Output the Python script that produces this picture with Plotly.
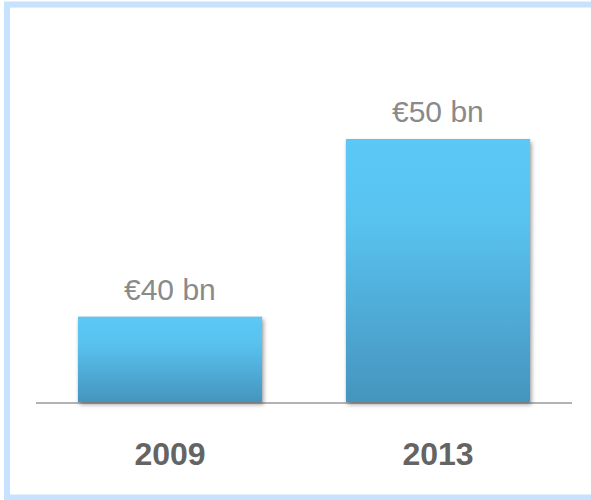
import urllib.parse
import plotly.graph_objects as go

# ---- data -------------------------------------------------------------
years = ["2009", "2013"]
values = [40, 50]
value_labels = ["€40 bn", "€50 bn"]

# ---- geometry ---------------------------------------------------------
W, H = 591, 500
M_L, M_R, M_T, M_B = 36, 19, 40, 98
Y_MIN, Y_MAX = 35.2, 55.6
X_MIN, X_MAX = -0.5, 1.5
BAR_WIDTH = 0.687

plot_w = W - M_L - M_R
plot_h = H - M_T - M_B
px_per_x = plot_w / (X_MAX - X_MIN)
px_per_y = plot_h / (Y_MAX - Y_MIN)


def to_paper_x(x):
    return (x - X_MIN) / (X_MAX - X_MIN)


def to_paper_y(y):
    return (y - Y_MIN) / (Y_MAX - Y_MIN)


def svg_uri(svg):
    return "data:image/svg+xml;charset=utf-8," + urllib.parse.quote(svg)


def gradient_svg():
    return (
        "<svg xmlns='http://www.w3.org/2000/svg' width='10' height='100' "
        "viewBox='0 0 10 100' preserveAspectRatio='none'>"
        "<defs><linearGradient id='g' x1='0' y1='0' x2='0' y2='1'>"
        "<stop offset='0' stop-color='#5BC8F6'/>"
        "<stop offset='0.3' stop-color='#59C3F0'/>"
        "<stop offset='1' stop-color='#4595BE'/>"
        "</linearGradient></defs>"
        "<rect x='0' y='0' width='10' height='100' fill='url(#g)'/></svg>"
    )


def shadow_svg(w, h, pad):
    tw, th = w + 2 * pad, h + 2 * pad
    return (
        f"<svg xmlns='http://www.w3.org/2000/svg' width='{tw:.1f}' height='{th:.1f}' "
        f"viewBox='0 0 {tw:.1f} {th:.1f}' preserveAspectRatio='none'>"
        "<defs><filter id='b' x='-20%' y='-20%' width='140%' height='140%'>"
        "<feGaussianBlur stdDeviation='2.2'/></filter></defs>"
        f"<rect x='{pad + 1.5:.1f}' y='{pad + 2.5:.1f}' width='{w:.1f}' height='{h:.1f}' "
        "fill='#000' fill-opacity='0.38' filter='url(#b)'/></svg>"
    )


fig = go.Figure(
    go.Bar(
        x=years,
        y=values,
        width=BAR_WIDTH,
        marker=dict(color="#50AEDA", line=dict(width=0)),
        hoverinfo="skip",
    )
)

images = []
pad_px = 10
for i, v in enumerate(values):
    bw_px = BAR_WIDTH * px_per_x
    bh_px = (v - Y_MIN) * px_per_y
    # soft drop shadow behind each bar
    images.append(dict(
        source=svg_uri(shadow_svg(bw_px, bh_px, pad_px)),
        xref="paper", yref="paper",
        x=to_paper_x(i - BAR_WIDTH / 2) - pad_px / plot_w,
        y=to_paper_y(v) + pad_px / plot_h,
        sizex=(bw_px + 2 * pad_px) / plot_w,
        sizey=(bh_px + 2 * pad_px) / plot_h,
        xanchor="left", yanchor="top",
        sizing="stretch", layer="above",
    ))
for i, v in enumerate(values):
    # vertical gradient fill over each bar
    images.append(dict(
        source=svg_uri(gradient_svg()),
        xref="paper", yref="paper",
        x=to_paper_x(i - BAR_WIDTH / 2),
        y=to_paper_y(v),
        sizex=BAR_WIDTH / (X_MAX - X_MIN),
        sizey=(v - Y_MIN) / (Y_MAX - Y_MIN),
        xanchor="left", yanchor="top",
        sizing="stretch", layer="above",
    ))

# value labels just above each bar
annotations = [
    dict(
        x=to_paper_x(i), y=to_paper_y(v), xref="paper", yref="paper",
        text=lab, showarrow=False,
        xanchor="center", yanchor="bottom", yshift=9,
        font=dict(family="Liberation Sans, Arial, sans-serif", size=30, color="#8A8A8A"),
    )
    for i, (v, lab) in enumerate(zip(values, value_labels))
]

# light blue frame around the panel (open on the right edge)
frame_color = "#C6E2FE"
fx0 = (7 - M_L) / plot_w
fx1 = (W + 20 - M_L) / plot_w
fy_top = (H - M_B - 4.5) / plot_h
fy_bot = (H - M_B - 497.5) / plot_h
shapes = [
    dict(type="rect", xref="paper", yref="paper", x0=fx0, x1=fx1, y0=fy_bot, y1=fy_top,
         line=dict(color=frame_color, width=6), fillcolor="rgba(0,0,0,0)", layer="below"),
]

fig.update_layout(
    width=W, height=H,
    margin=dict(l=M_L, r=M_R, t=M_T, b=M_B),
    paper_bgcolor="white", plot_bgcolor="white",
    showlegend=False,
    images=images,
    annotations=annotations,
    shapes=shapes,
    xaxis=dict(
        type="category",
        range=[X_MIN, X_MAX], showgrid=False, zeroline=False,
        showline=True, linecolor="#B3B3B3", linewidth=2,
        ticks="", ticklabelstandoff=23,
        tickfont=dict(family="Liberation Sans, Arial, sans-serif", size=32, color="#646464", weight="bold"),
    ),
    yaxis=dict(range=[Y_MIN, Y_MAX], visible=False, showgrid=False, zeroline=False),
)

fig.write_html("out.html")
